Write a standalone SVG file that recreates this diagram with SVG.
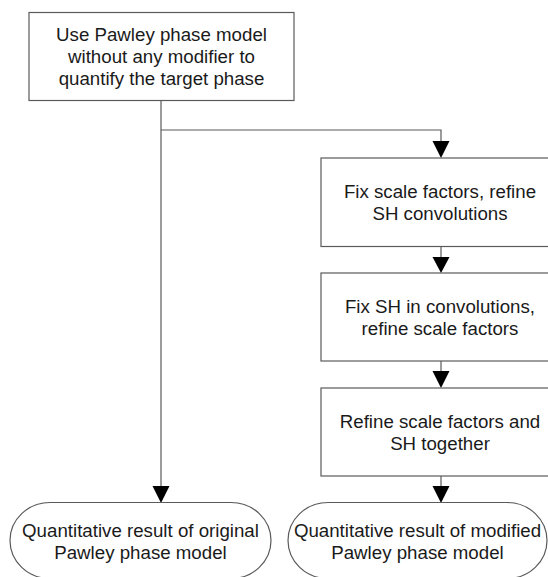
<svg xmlns="http://www.w3.org/2000/svg" width="548" height="577" viewBox="0 0 548 577">
<style>
.box{fill:#fff;stroke:#5a5a5a;stroke-width:1.2}
.t{font-family:"Liberation Sans",Arial,sans-serif;font-size:18.7px;fill:#1a1a1a;text-anchor:middle}
.ln{fill:none;stroke:#5a5a5a;stroke-width:1.2}
.ah{fill:#000}
</style>
<rect width="548" height="577" fill="#fff"/>
<g id="connectors">
<path class="ln" d="M161,101 V487"/>
<path class="ln" d="M161,130 H441 V142"/>
<path class="ln" d="M441,247 V258"/>
<path class="ln" d="M441,361 V372"/>
<path class="ln" d="M441,476 V487"/>
<polygon class="ah" points="152.5,486 169.5,486 161,503"/>
<polygon class="ah" points="432.5,141 449.5,141 441,158"/>
<polygon class="ah" points="432.5,257 449.5,257 441,273"/>
<polygon class="ah" points="432.5,371 449.5,371 441,388"/>
<polygon class="ah" points="432.5,486 449.5,486 441,503"/>
</g>
<g id="start">
<rect class="box" x="29" y="12.5" width="265" height="88"/>
<text class="t" x="161.5" y="41">Use Pawley phase model</text>
<text class="t" x="161.5" y="63">without any modifier to</text>
<text class="t" x="161.5" y="85">quantify the target phase</text>
</g>
<g id="step1">
<rect class="box" x="321" y="158" width="240" height="88.5"/>
<text class="t" x="440" y="197.5">Fix scale factors, refine</text>
<text class="t" x="440" y="219.5">SH convolutions</text>
</g>
<g id="step2">
<rect class="box" x="321" y="273" width="240" height="88"/>
<text class="t" x="440" y="312.5">Fix SH in convolutions,</text>
<text class="t" x="440" y="334.5">refine scale factors</text>
</g>
<g id="step3">
<rect class="box" x="321" y="388" width="240" height="88"/>
<text class="t" x="440" y="428">Refine scale factors and</text>
<text class="t" x="440" y="450">SH together</text>
</g>
<g id="result-original">
<path class="box" d="M50,502.5 H231 A40,38 0 0 1 231,578.5 H50 A40,38 0 0 1 50,502.5 Z"/>
<text class="t" x="140.5" y="536.5">Quantitative result of original</text>
<text class="t" x="140.5" y="558.5">Pawley phase model</text>
</g>
<g id="result-modified">
<path class="box" d="M328,502.5 H507 A40,38 0 0 1 507,578.5 H328 A40,38 0 0 1 328,502.5 Z"/>
<text class="t" x="417.5" y="536.5">Quantitative result of modified</text>
<text class="t" x="417.5" y="558.5">Pawley phase model</text>
</g>
</svg>
